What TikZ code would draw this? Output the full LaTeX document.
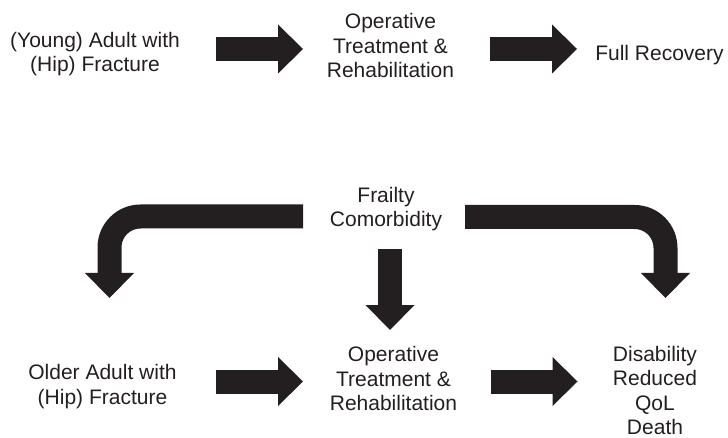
\documentclass[tikz,border=0pt]{standalone}
\usepackage{fontspec}
\setmainfont{Liberation Sans}
\usetikzlibrary{arrows.meta}
\definecolor{inkblk}{HTML}{231F20}
\tikzset{
  lbl/.style={align=center, inner sep=0pt, anchor=base, text=inkblk,
    font=\fontsize{21}{24.5}\selectfont},
  fat/.style={draw=inkblk, line width=24pt,
    -{Triangle[width=49pt,length=25pt,line width=0pt]}},
}
\begin{document}
\begin{tikzpicture}[x=1pt,y=-1pt]
\useasboundingbox (0,0) rectangle (728,438);
%-- top row (base = last line)
\node[lbl] (young) at (95,72) {(Young) Adult with\\(Hip) Fracture};
\node[lbl] (optop) at (390.5,78) {Operative\\Treatment \&\\Rehabilitation};
\node[lbl] (full) at (659.5,60.5) {Full Recovery};
\coordinate (t1s) at (216,49);
\coordinate (t1e) at (303,49);
\coordinate (t2s) at (490,49);
\coordinate (t2e) at (577,49);
\draw[fat] (t1s) -- (t1e);
\draw[fat] (t2s) -- (t2e);
%-- risk factors
\node[lbl] (frail) at (386,227) {Frailty\\Comorbidity};
\coordinate (ls) at (303,216.5);
\coordinate (lk) at (109.5,216.5);
\coordinate (le) at (109.5,298);
\draw[fat, rounded corners=31pt] (ls) -- (lk) -- (le);
\coordinate (ms) at (390,249);
\coordinate (me) at (390,330);
\draw[fat] (ms) -- (me);
\coordinate (rs) at (465,217);
\coordinate (rk) at (665.5,217);
\coordinate (re) at (665.5,298);
\draw[fat, rounded corners=31pt] (rs) -- (rk) -- (re);
%-- bottom row
\node[lbl] (older) at (102.5,404) {Older Adult with\\(Hip) Fracture};
\node[lbl] (opbot) at (393.5,410.5) {Operative\\Treatment \&\\Rehabilitation};
\node[lbl] (outcome) at (655,434.5) {Disability\\Reduced\\QoL\\Death};
\coordinate (b1s) at (216,381.5);
\coordinate (b1e) at (303,381.5);
\coordinate (b2s) at (490.5,381.5);
\coordinate (b2e) at (577.5,381.5);
\draw[fat] (b1s) -- (b1e);
\draw[fat] (b2s) -- (b2e);
\end{tikzpicture}
\end{document}
